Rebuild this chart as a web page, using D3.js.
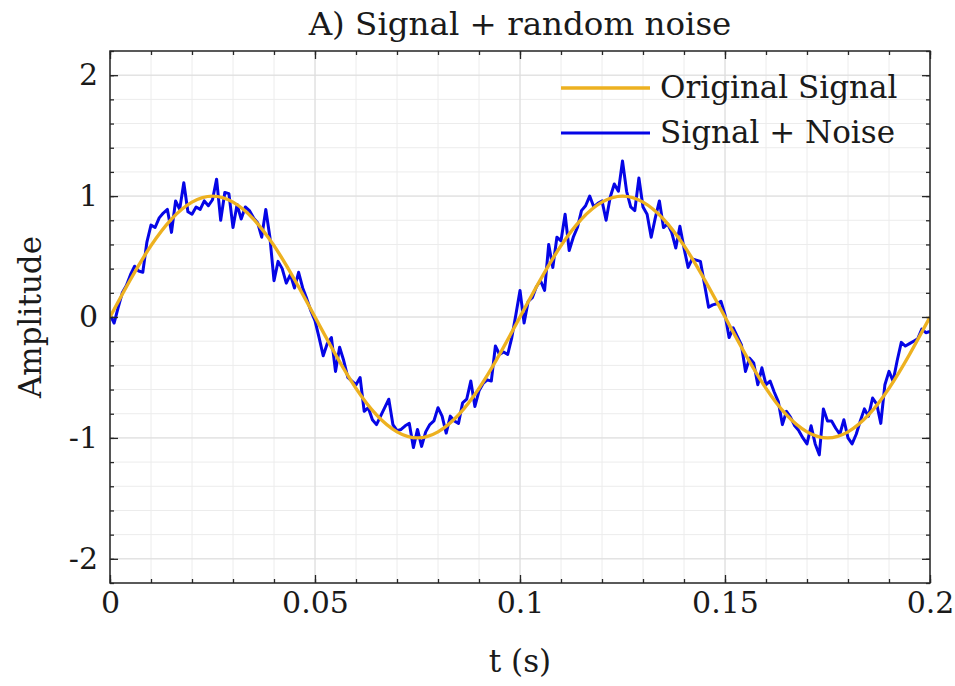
<!DOCTYPE html>
<html><head><meta charset="utf-8">
<script src="https://cdn.jsdelivr.net/npm/d3@7"></script>
<style>html,body{margin:0;padding:0;background:#fff;} svg{display:block;}</style>
</head><body>
<svg id="chart" width="955" height="686"></svg>
<script>
const titleText = "A) Signal + random noise";
const xLabelText = "t (s)";
const yLabelText = "Amplitude";
const seriesNames = ["Original Signal", "Signal + Noise"];
const seriesColors = ["#EDB120", "#0505e6"];
const xTickValues = [0, 0.05, 0.1, 0.15, 0.2];
const xTickLabels = ["0", "0.05", "0.1", "0.15", "0.2"];
const yTickValues = [-2, -1, 0, 1, 2];
const yTickLabels = ["-2", "-1", "0", "1", "2"];
const xDomain = [0, 0.2];
const yDomain = [-2.2, 2.2];

// Signal + Noise, sampled every 1 ms (t = 0 ... 0.2 s)
const noisyStep = 0.001;
const noisySignal = [
  0.02, -0.05, 0.08, 0.20, 0.26, 0.35, 0.42, 0.38, 0.37, 0.62,
  0.76, 0.74, 0.82, 0.86, 0.89, 0.70, 0.96, 0.89, 1.11, 0.87,
  0.85, 0.91, 0.89, 0.96, 0.92, 0.97, 1.14, 0.80, 1.03, 1.02,
  0.74, 0.93, 0.81, 0.91, 0.88, 0.82, 0.78, 0.66, 0.89, 0.66,
  0.30, 0.46, 0.40, 0.28, 0.35, 0.24, 0.37, 0.24, 0.15, 0.05,
  -0.03, -0.17, -0.32, -0.22, -0.17, -0.45, -0.25, -0.36, -0.50, -0.53,
  -0.56, -0.50, -0.78, -0.75, -0.85, -0.89, -0.82, -0.75, -0.68, -0.89,
  -0.94, -0.93, -0.90, -0.88, -1.08, -0.93, -1.07, -0.95, -0.89, -0.86,
  -0.75, -0.82, -0.96, -0.82, -0.86, -0.88, -0.71, -0.68, -0.53, -0.74,
  -0.61, -0.55, -0.52, -0.53, -0.24, -0.31, -0.29, -0.31, -0.17, 0.02,
  0.22, -0.05, 0.13, 0.16, 0.25, 0.30, 0.22, 0.60, 0.41, 0.66,
  0.63, 0.85, 0.55, 0.66, 0.74, 0.88, 0.92, 1.00, 0.91, 0.94,
  0.96, 0.80, 0.99, 1.10, 1.04, 1.29, 1.04, 0.91, 0.88, 1.15,
  0.91, 0.85, 0.66, 0.82, 0.96, 0.74, 0.77, 0.70, 0.57, 0.75,
  0.57, 0.41, 0.48, 0.47, 0.46, 0.27, 0.08, 0.10, 0.11, 0.13,
  0.02, -0.17, -0.09, -0.16, -0.23, -0.45, -0.34, -0.38, -0.56, -0.42,
  -0.56, -0.53, -0.62, -0.70, -0.89, -0.78, -0.83, -0.90, -0.94, -1.00,
  -1.05, -0.90, -1.05, -1.14, -0.76, -0.86, -0.86, -0.92, -0.97, -0.85,
  -1.00, -1.05, -0.97, -0.86, -0.76, -0.82, -0.67, -0.72, -0.88, -0.56,
  -0.45, -0.53, -0.36, -0.21, -0.24, -0.22, -0.20, -0.18, -0.10, -0.13,
  -0.12
];

// Original signal, read every 5 ms
const originalStep = 0.005;
const originalSignal = [
  0, 0.31, 0.59, 0.81, 0.95, 1, 0.95, 0.81, 0.59, 0.31,
  0, -0.31, -0.59, -0.81, -0.95, -1, -0.95, -0.81, -0.59, -0.31,
  0, 0.31, 0.59, 0.81, 0.95, 1, 0.95, 0.81, 0.59, 0.31,
  0, -0.31, -0.59, -0.81, -0.95, -1, -0.95, -0.81, -0.59, -0.31,
  0
];

const FONT = "'DejaVu Serif', serif";
const TXT = "#1a1a1a";
const AX = "#262626";
const m = {left: 110, right: 930, top: 51, bottom: 583};
const svg = d3.select("#chart");
const x = d3.scaleLinear().domain(xDomain).range([m.left, m.right]);
const y = d3.scaleLinear().domain(yDomain).range([m.bottom, m.top]);

// grid
const xMinor = x.ticks(20);
const yMinor = y.ticks(22);
const grid = svg.append("g");
grid.selectAll(".gxm").data(xMinor).join("line")
  .attr("x1", d => x(d)).attr("x2", d => x(d)).attr("y1", m.top).attr("y2", m.bottom)
  .attr("stroke", "#ececec").attr("stroke-width", 1);
grid.selectAll(".gym").data(yMinor).join("line")
  .attr("y1", d => y(d)).attr("y2", d => y(d)).attr("x1", m.left).attr("x2", m.right)
  .attr("stroke", "#ececec").attr("stroke-width", 1);
grid.selectAll(".gxM").data(xTickValues).join("line")
  .attr("x1", d => x(d)).attr("x2", d => x(d)).attr("y1", m.top).attr("y2", m.bottom)
  .attr("stroke", "#dcdcdc").attr("stroke-width", 1);
grid.selectAll(".gyM").data(yTickValues).join("line")
  .attr("y1", d => y(d)).attr("y2", d => y(d)).attr("x1", m.left).attr("x2", m.right)
  .attr("stroke", "#dcdcdc").attr("stroke-width", 1);

// lines
svg.append("clipPath").attr("id", "clip").append("rect")
  .attr("x", m.left).attr("y", m.top).attr("width", m.right - m.left).attr("height", m.bottom - m.top);
const plot = svg.append("g").attr("clip-path", "url(#clip)");
const noisyLine = d3.line().x((d, i) => x(i * noisyStep)).y(d => y(d));
const origLine = d3.line().x((d, i) => x(i * originalStep)).y(d => y(d)).curve(d3.curveNatural);
plot.append("path").datum(noisySignal).attr("d", noisyLine)
  .attr("fill", "none").attr("stroke", seriesColors[1]).attr("stroke-width", 3).attr("stroke-linejoin", "round");
plot.append("path").datum(originalSignal).attr("d", origLine)
  .attr("fill", "none").attr("stroke", seriesColors[0]).attr("stroke-width", 3.4);

// axes
function styleAxis(g) {
  g.select(".domain").remove();
  g.selectAll("line").attr("stroke", AX).attr("stroke-width", 1.3);
  g.selectAll("text").attr("font-family", FONT).attr("font-size", 30).attr("fill", TXT);
}
svg.append("g").attr("transform", `translate(0,${m.bottom})`)
  .call(d3.axisBottom(x).tickValues(xMinor).tickSize(-4).tickFormat(""))
  .call(styleAxis);
svg.append("g").attr("transform", `translate(0,${m.top})`)
  .call(d3.axisTop(x).tickValues(xMinor).tickSize(-4).tickFormat(""))
  .call(styleAxis);
svg.append("g").attr("transform", `translate(${m.left},0)`)
  .call(d3.axisLeft(y).tickValues(yMinor).tickSize(-4).tickFormat(""))
  .call(styleAxis);
svg.append("g").attr("transform", `translate(${m.right},0)`)
  .call(d3.axisRight(y).tickValues(yMinor).tickSize(-4).tickFormat(""))
  .call(styleAxis);

svg.append("g").attr("transform", `translate(0,${m.bottom})`)
  .call(d3.axisBottom(x).tickValues(xTickValues).tickFormat((d, i) => xTickLabels[i])
    .tickSizeInner(-8).tickSizeOuter(0).tickPadding(9))
  .call(styleAxis);
svg.append("g").attr("transform", `translate(0,${m.top})`)
  .call(d3.axisTop(x).tickValues(xTickValues).tickFormat("").tickSizeInner(-8).tickSizeOuter(0))
  .call(styleAxis);
svg.append("g").attr("transform", `translate(${m.left},0)`)
  .call(d3.axisLeft(y).tickValues(yTickValues).tickFormat((d, i) => yTickLabels[i])
    .tickSizeInner(-8).tickSizeOuter(0).tickPadding(12))
  .call(styleAxis);
svg.append("g").attr("transform", `translate(${m.right},0)`)
  .call(d3.axisRight(y).tickValues(yTickValues).tickFormat("").tickSizeInner(-8).tickSizeOuter(0))
  .call(styleAxis);

svg.append("rect").attr("x", m.left).attr("y", m.top)
  .attr("width", m.right - m.left).attr("height", m.bottom - m.top)
  .attr("fill", "none").attr("stroke", AX).attr("stroke-width", 1.5);

// title and labels
svg.append("text").attr("x", (m.left + m.right) / 2).attr("y", 35)
  .attr("text-anchor", "middle").attr("font-family", FONT).attr("font-size", 32.5).attr("fill", TXT)
  .text(titleText);
svg.append("text").attr("x", (m.left + m.right) / 2).attr("y", 672)
  .attr("text-anchor", "middle").attr("font-family", FONT).attr("font-size", 31).attr("fill", TXT)
  .text(xLabelText);
svg.append("text").attr("transform", `translate(41,${(m.top + m.bottom) / 2}) rotate(-90)`)
  .attr("text-anchor", "middle").attr("font-family", FONT).attr("font-size", 31).attr("fill", TXT)
  .text(yLabelText);

// legend
const legendRows = [{name: seriesNames[0], color: seriesColors[0], yy: 88, w: 3.4},
                    {name: seriesNames[1], color: seriesColors[1], yy: 133, w: 3}];
const lg = svg.append("g");
legendRows.forEach(r => {
  lg.append("line").attr("x1", 561).attr("x2", 650).attr("y1", r.yy).attr("y2", r.yy)
    .attr("stroke", r.color).attr("stroke-width", r.w);
  lg.append("text").attr("x", 660).attr("y", r.yy + 10)
    .attr("font-family", FONT).attr("font-size", 31).attr("fill", TXT).text(r.name);
});
</script>
</body></html>
